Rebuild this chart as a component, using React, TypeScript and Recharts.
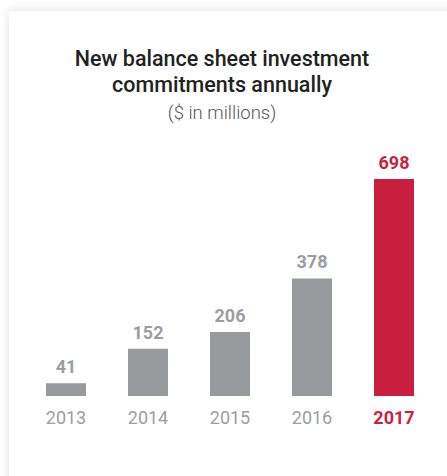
import { BarChart, Bar, XAxis, YAxis, Cell, LabelList } from "recharts";

const years = ["2013", "2014", "2015", "2016", "2017"];
const commitments = [41, 152, 206, 378, 698];
const highlightYear = "2017";

const data = years.map((year, i) => ({ year, value: commitments[i] }));

const GRAY = "#98999d";
const TEXT_GRAY = "#9c9da1";
const RED = "#c81f3e";

// eslint-disable-next-line @typescript-eslint/no-explicit-any
const YearTick = (props: any) => {
  const { x, y, payload } = props;
  const hot = payload.value === highlightYear;
  return (
    <text
      x={x}
      y={y}
      dy={28}
      textAnchor="middle"
      fontSize={18}
      fontWeight={hot ? 700 : 400}
      fill={hot ? RED : TEXT_GRAY}
    >
      {payload.value}
    </text>
  );
};

// eslint-disable-next-line @typescript-eslint/no-explicit-any
const ValueLabel = (props: any) => {
  const { x, y, width, value, index } = props;
  const hot = years[index] === highlightYear;
  return (
    <text
      x={x + width / 2}
      y={y - 10}
      textAnchor="middle"
      fontSize={18}
      fontWeight={700}
      fill={hot ? RED : TEXT_GRAY}
    >
      {value}
    </text>
  );
};

const App = () => {
  return (
    <div
      style={{
        position: "absolute",
        left: 0,
        top: 0,
        width: 447,
        height: 476,
        overflow: "hidden",
        background: "#ffffff",
        fontFamily: "Roboto, sans-serif",
      }}
    >
      <div
        style={{
          position: "absolute",
          left: 9,
          top: 11,
          width: 460,
          height: 480,
          background: "#ffffff",
          boxShadow: "0 0 9px rgba(0,0,0,0.13)",
        }}
      />
      <div
        style={{
          position: "absolute",
          left: 0,
          top: 46,
          width: 444,
          textAlign: "center",
          color: "#222222",
          fontSize: 21.5,
          fontWeight: 500,
          lineHeight: "26px",
        }}
      >
        New balance sheet investment
        <br />
        commitments annually
      </div>
      <div
        style={{
          position: "absolute",
          left: 0,
          top: 101,
          width: 444,
          textAlign: "center",
          color: "#555555",
          fontSize: 18.5,
          fontWeight: 300,
          lineHeight: "24px",
        }}
      >
        ($ in millions)
      </div>
      <div style={{ position: "absolute", left: 0, top: 0 }}>
        <BarChart
          width={447}
          height={476}
          data={data}
          margin={{ top: 179, right: 12, bottom: 50, left: 25 }}
          barSize={40}
        >
          <YAxis hide domain={[0, 698]} />
          <XAxis
            dataKey="year"
            height={30}
            axisLine={false}
            tickLine={false}
            tickSize={0}
            tickMargin={0}
            tick={<YearTick />}
            interval={0}
          />
          <Bar dataKey="value" isAnimationActive={false}>
            {data.map((d) => (
              <Cell key={d.year} fill={d.year === highlightYear ? RED : GRAY} />
            ))}
            <LabelList dataKey="value" content={<ValueLabel />} />
          </Bar>
        </BarChart>
      </div>
    </div>
  );
};

export default App;
